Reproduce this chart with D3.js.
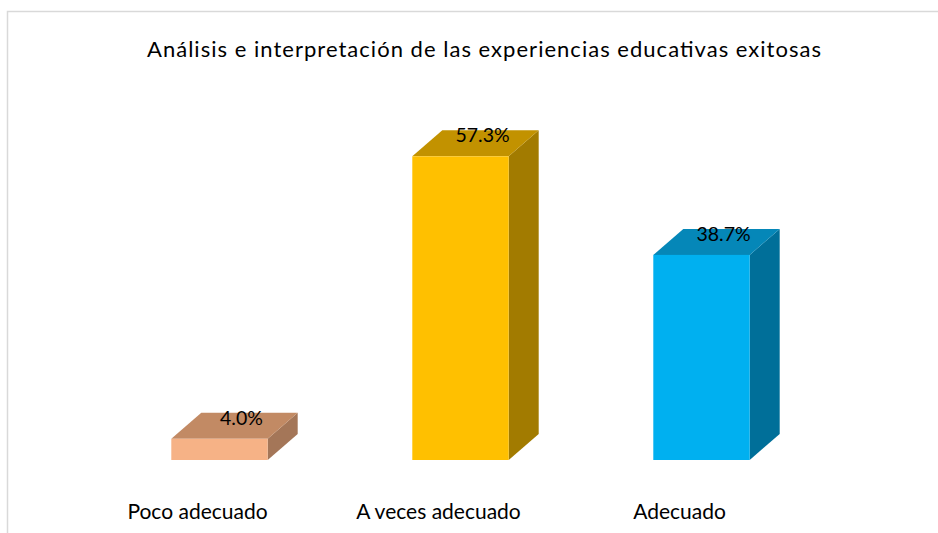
<!DOCTYPE html>
<html>
<head>
<meta charset="utf-8">
<script src="https://cdn.jsdelivr.net/npm/d3@7"></script>
<style>
  body { margin: 0; background: #ffffff; }
  svg { display: block; font-family: "Lato", "Open Sans", sans-serif; }
</style>
</head>
<body>
<div id="chart"></div>
<script>
// Chart data
var title = "Análisis e interpretación de las experiencias educativas exitosas";
var categories = ["Poco adecuado", "A veces adecuado", "Adecuado"];
var values = [4.0, 57.3, 38.7];
var valueLabels = ["4.0%", "57.3%", "38.7%"];

// Face colours per bar: front, top, side
var palette = [
    { front: "#F6B286", top: "#C28A64", side: "#A47658" },
    { front: "#FFC000", top: "#C29200", side: "#A27B00" },
    { front: "#00B0F0", top: "#0587B8", side: "#006F99" }
];

var width = 938,
    height = 533;

// Depth of the 3D extrusion
var depthX = 30,
    depthY = 26;

var svg = d3.select("#chart")
    .append("svg")
    .attr("width", width)
    .attr("height", height);

// Light grey chart frame (runs off the right and bottom edges)
svg.append("rect")
    .attr("x", 7.5)
    .attr("y", 11.5)
    .attr("width", width + 20)
    .attr("height", height + 20)
    .attr("fill", "none")
    .attr("stroke", "#d9d9d9")
    .attr("stroke-width", 1.5);

// Title
svg.append("text")
    .attr("x", 484)
    .attr("y", 57)
    .attr("text-anchor", "middle")
    .attr("font-size", 22)
    .attr("fill", "#000")
    .attr("textLength", 674)
    .attr("lengthAdjust", "spacing")
    .text(title);

// Scales
var x = d3.scaleBand()
    .domain(categories)
    .range([99, 822])
    .paddingInner(0.6)
    .paddingOuter(0.3);

var y = d3.scaleLinear()
    .domain([0, 60])
    .range([460, 142]);

var data = categories.map(function (c, i) {
    return { cat: c, value: values[i], label: valueLabels[i], col: palette[i] };
});

var bars = svg.selectAll(".bar")
    .data(data)
    .enter()
    .append("g")
    .attr("class", "bar");

// Side face
bars.append("path")
    .attr("fill", function (d) { return d.col.side; })
    .attr("d", function (d) {
        var x1 = x(d.cat) + x.bandwidth(), yt = y(d.value), yb = y(0);
        return "M" + x1 + "," + yt +
            "L" + (x1 + depthX) + "," + (yt - depthY) +
            "L" + (x1 + depthX) + "," + (yb - depthY) +
            "L" + x1 + "," + yb + "Z";
    });

// Top face
bars.append("path")
    .attr("fill", function (d) { return d.col.top; })
    .attr("d", function (d) {
        var x0 = x(d.cat), x1 = x0 + x.bandwidth(), yt = y(d.value);
        return "M" + x0 + "," + yt +
            "L" + (x0 + depthX) + "," + (yt - depthY) +
            "L" + (x1 + depthX) + "," + (yt - depthY) +
            "L" + x1 + "," + yt + "Z";
    });

// Front face
bars.append("rect")
    .attr("x", function (d) { return x(d.cat); })
    .attr("y", function (d) { return y(d.value); })
    .attr("width", x.bandwidth())
    .attr("height", function (d) { return y(0) - y(d.value); })
    .attr("fill", function (d) { return d.col.front; });

// Value labels, sitting on the top face
bars.append("text")
    .attr("x", function (d) { return x(d.cat) + x.bandwidth() / 2 + 22; })
    .attr("y", function (d) { return y(d.value) - 14; })
    .attr("text-anchor", "middle")
    .attr("font-size", 19.5)
    .attr("fill", "#000")
    .text(function (d) { return d.label; });

// Category labels
svg.selectAll(".cat")
    .data(categories)
    .enter()
    .append("text")
    .attr("class", "cat")
    .attr("x", function (d) { return x(d) + x.bandwidth() / 2 - 22; })
    .attr("y", 519)
    .attr("text-anchor", "middle")
    .attr("font-size", 21)
    .attr("fill", "#000")
    .text(function (d) { return d; });
</script>
</body>
</html>
